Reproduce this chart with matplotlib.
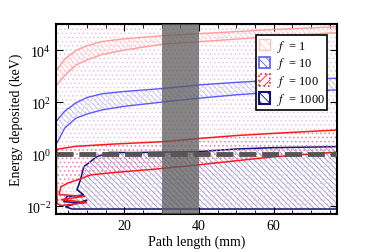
import matplotlib
matplotlib.use("Agg")
import matplotlib.pyplot as plt
from matplotlib.patches import Patch

plt.rcParams['font.family'] = ['Liberation Serif', 'DejaVu Serif']
plt.rcParams['mathtext.fontset'] = 'stix'
plt.rcParams['hatch.linewidth'] = 0.6

# band f = 1 and f = 10 (path length in mm, energy in keV)
band_x = [2, 4, 7, 10, 14, 20, 30, 40, 50, 60, 77]
f1_hi = [1780, 4470, 9550, 14800, 21400, 26900, 35500, 42700, 51300, 61700, 79400]
f1_lo = [468, 1050, 2630, 4170, 6760, 10000, 16600, 20900, 26300, 33100, 46800]
f10_hi = [20, 45, 93, 151, 209, 257, 331, 457, 575, 692, 832]
f10_lo = [2.8, 10, 24, 35, 50, 69, 100, 141, 191, 240, 295]

# contour f = 100
f100_x = [1.8, 2, 7, 16, 30, 40, 50, 60, 77,
          77, 60, 50, 40, 30, 16, 11, 8, 5, 3, 2.5, 9.5, 3, 10, 3, 2, 1.8]
f100_y = [1.26, 1.55, 2.0, 2.4, 3.0, 4.0, 5.2, 6.3, 8.5,
          1.2, 0.79, 0.56, 0.39, 0.28, 0.19, 0.16, 0.11, 0.079, 0.056, 0.028,
          0.024, 0.018, 0.014, 0.0105, 0.0126, 0.1]

# contour f = 1000
f1000_x = [12.7, 16, 22, 40, 50, 60, 77, 77, 6, 4.2, 10, 9, 3.7, 4.6, 9.1, 7.3, 8.2, 9.1]
f1000_y = [0.81, 1.17, 1.15, 1.26, 1.58, 1.78, 1.95, 0.0078, 0.0078, 0.0095,
           0.0174, 0.0132, 0.015, 0.0234, 0.027, 0.043, 0.10, 0.33]

threshold = 1.0
window = (30, 40)
labels = ['$f$  = 1', '$f$  = 10', '$f$  = 100', '$f$  = 1000']

c1 = '#ff9c9c'
c10 = '#5a5aff'
c100 = '#ff1a1a'
c1000 = '#10107a'

fig = plt.figure(figsize=(3.74, 2.53), dpi=100)
ax = fig.add_axes([0.150, 0.150, 0.751, 0.751])
ax.set_yscale('log')

# faint dotted background
ax.fill_between([1.7, 77], [5e-3, 5e-3], [1e5, 1e5], facecolor='none',
                edgecolor='#eec4e0', hatch='....', linewidth=0)

ax.fill_between(band_x, f1_lo, f1_hi, facecolor='none', edgecolor='#ffc8c8',
                hatch='\\\\\\\\\\\\', linewidth=0)
ax.plot(band_x, f1_hi, color=c1, lw=1)
ax.plot(band_x, f1_lo, color=c1, lw=1)

ax.fill_between(band_x, f10_lo, f10_hi, facecolor='none', edgecolor='#c0c0f0',
                hatch='\\\\\\\\\\\\', linewidth=0)
ax.plot(band_x, f10_hi, color=c10, lw=1)
ax.plot(band_x, f10_lo, color=c10, lw=1)

ax.fill(f1000_x, f1000_y, facecolor='none', edgecolor='#9a9ad8',
        hatch='\\\\\\\\\\\\', linewidth=0)
ax.fill(f1000_x, f1000_y, facecolor='none', edgecolor=c1000, linewidth=1.1)

ax.fill(f100_x, f100_y, facecolor='none', edgecolor='#f08ab0',
        hatch='....', linewidth=0)
ax.fill(f100_x, f100_y, facecolor='none', edgecolor=c100, linewidth=1.1)

ax.axvspan(window[0], window[1], color='#5c5c5c', alpha=0.75, lw=0, zorder=3)
ax.axhline(threshold, color='#555555', lw=3.5, dashes=(3.5, 1.2), zorder=4)

ax.set_xlim(1.7, 77)
ax.set_ylim(5e-3, 1e5)
ax.set_xticks([20, 40, 60])
ax.set_yticks([1e-2, 1, 1e2, 1e4])
ax.xaxis.set_minor_locator(matplotlib.ticker.MultipleLocator(5))
ax.tick_params(which='both', direction='in', top=True, right=True, labelsize=10)
ax.tick_params(which='major', length=5)
ax.tick_params(which='minor', length=3)
for s in ax.spines.values():
    s.set_linewidth(1.5)

ax.set_xlabel('Path length (mm)', fontsize=10, labelpad=2)
ax.set_ylabel('Energy deposited (keV)', fontsize=10, labelpad=2)

handles = [
    Patch(facecolor='white', edgecolor='#ffc0c0', hatch='\\\\\\\\', lw=1),
    Patch(facecolor='white', edgecolor=c10, hatch='\\\\\\\\', lw=1.2),
    Patch(facecolor='white', edgecolor=c100, hatch='////', lw=1.2, ls=':'),
    Patch(facecolor='white', edgecolor=c1000, hatch='\\\\\\\\', lw=1.5),
]
leg = ax.legend(handles, labels, loc='upper right', bbox_to_anchor=(0.975, 0.955),
                fontsize=9, frameon=True, fancybox=False, framealpha=1,
                edgecolor='black', handlelength=0.95, handleheight=1.0,
                handletextpad=0.5, borderpad=0.2, labelspacing=0.15,
                borderaxespad=0.2)
leg.get_frame().set_linewidth(1.2)
leg.set_zorder(6)

fig.savefig('out.png', dpi=100)
